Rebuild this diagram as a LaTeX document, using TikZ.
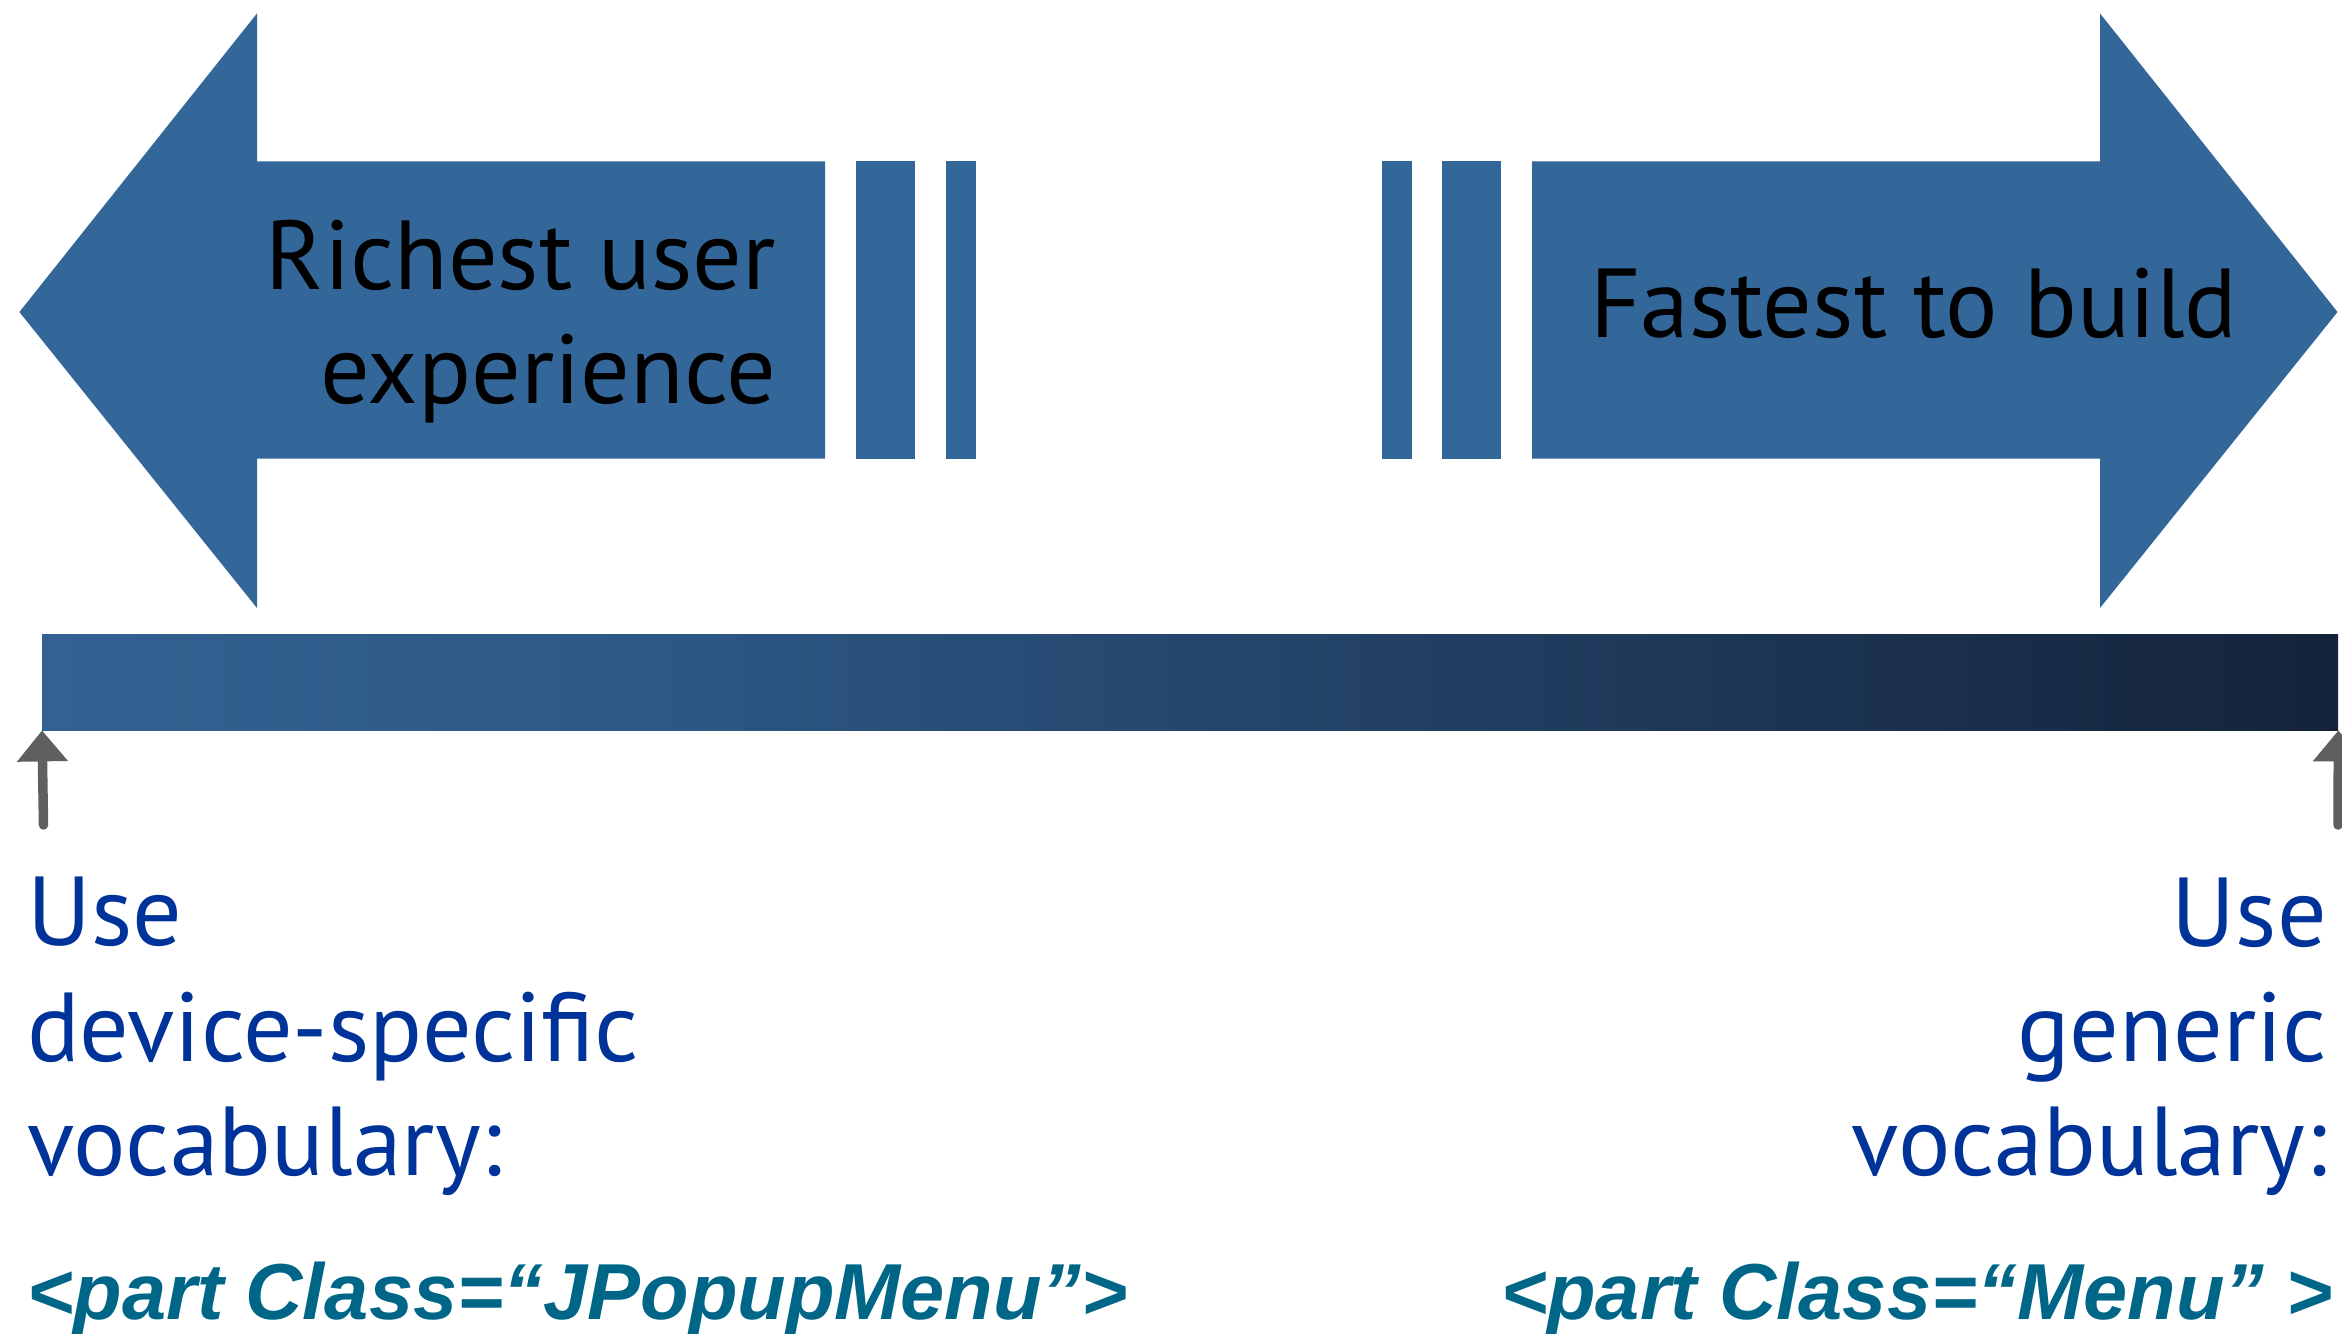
\documentclass[tikz,border=0pt]{standalone}
\usepackage{fontspec}
\setmainfont{PT Sans}
\newfontfamily\codefont{Liberation Sans}
\usetikzlibrary{arrows.meta}

\definecolor{arrowblue}{RGB}{51,102,153}
\definecolor{textblue}{RGB}{0,51,153}
\definecolor{codeteal}{RGB}{0,102,136}
\definecolor{tipgray}{RGB}{95,95,95}
\definecolor{barA}{RGB}{50,98,146}
\definecolor{barB}{RGB}{45,88,134}
\definecolor{barC}{RGB}{20,35,58}

% the inner 25bp..75bp band is stretched over the filled shape
\pgfdeclarehorizontalshading{barshade}{100bp}{%
  color(0bp)=(barA); color(25bp)=(barA); color(38bp)=(barB);
  color(75bp)=(barC); color(100bp)=(barC)}

\tikzset{
  bigarrow/.style={fill=arrowblue, draw=none},
  headline/.style={inner sep=0pt, text=black, font=\fontsize{98}{114}\selectfont},
  bluetext/.style={inner sep=0pt, text=textblue, font=\fontsize{98}{115}\selectfont},
  codetext/.style={inner sep=0pt, text=codeteal, font=\codefont\bfseries\itshape\fontsize{79.4}{96}\selectfont},
  pointer/.style={draw=tipgray, line width=9.5pt, line cap=round,
    -{Triangle[width=49pt, length=31pt]}},
}

\begin{document}
\begin{tikzpicture}[x=1pt, y=-1pt]
\useasboundingbox (0,0) rectangle (2342,1333);

% left arrow with its trailing stripes
\fill[bigarrow] (19.4,312) -- (257,13.4) -- (257,161.3) -- (825,161.3)
  -- (825,458.5) -- (257,458.5) -- (257,608) -- cycle;
\fill[bigarrow] (856,161.3) rectangle (915,458.5);
\fill[bigarrow] (946,161.3) rectangle (976,458.5);

% right arrow with its trailing stripes
\fill[bigarrow] (1382,161.3) rectangle (1412,458.5);
\fill[bigarrow] (1442,161.3) rectangle (1501,458.5);
\fill[bigarrow] (1532,161.3) -- (2100,161.3) -- (2100,13.4) -- (2337.5,312)
  -- (2100,608) -- (2100,458.5) -- (1532,458.5) -- cycle;

% arrow captions
\node[headline, anchor=base east] (rich1) at (776,289) {Richest user};
\node[headline, anchor=base east] (rich2) at (776,403) {experience};
\node[headline, anchor=base west] (fast) at (1590,337) {Fastest to build};

% shaded scale bar
\node[shading=barshade, inner sep=0pt, minimum width=2296pt, minimum height=96pt,
  anchor=north west] (bar) at (42,634) {};

% pointers to the two ends of the bar
\coordinate (leftfoot) at (43.5,825);
\coordinate (rightfoot) at (2338,825);
\draw[pointer] (leftfoot) -- (bar.south west);
\draw[pointer] (rightfoot) -- (bar.south east);

% left-hand description
\node[bluetext, anchor=base west] (luse) at (27,945) {Use};
\node[bluetext, anchor=base west] (ldev) at (27,1061) {device-specific};
\node[bluetext, anchor=base west] (lvoc) at (27,1175) {vocabulary:};
\node[codetext, anchor=base west] (lcode) at (27,1319) {<part Class=“JPopupMenu”>};

% right-hand description
\node[bluetext, anchor=base east] (ruse) at (2327,946) {Use};
\node[bluetext, anchor=base east] (rgen) at (2327,1061) {generic};
\node[bluetext, anchor=base east] (rvoc) at (2327,1175) {vocabulary:};
\node[codetext, anchor=base east] (rcode) at (2333,1319) {<part Class=“Menu” >};
\end{tikzpicture}
\end{document}
